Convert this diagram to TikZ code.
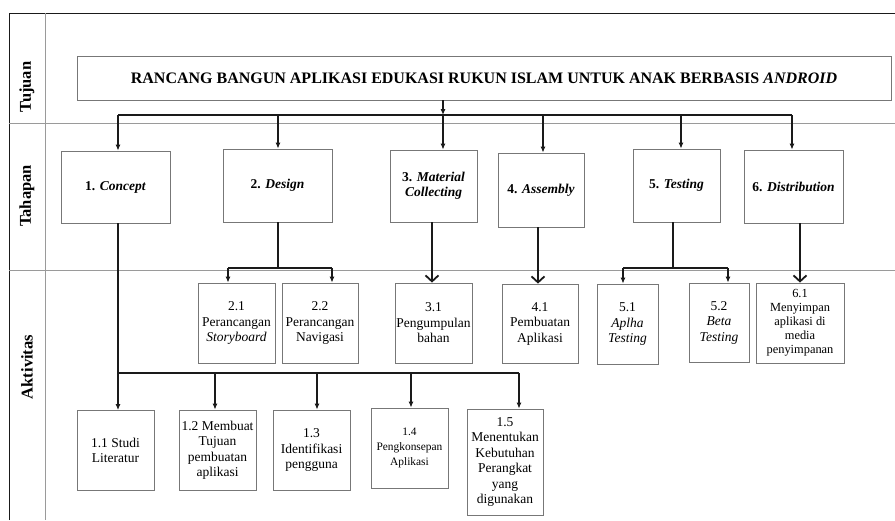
\documentclass[tikz,border=0pt]{standalone}
\usepackage{fontspec}
\setmainfont{Liberation Serif}
\usetikzlibrary{arrows.meta}
\definecolor{vdark}{HTML}{1a1a1a}
\definecolor{vgrid}{HTML}{9a9a9a}
\definecolor{vframe}{HTML}{777777}

\begin{document}
\begin{tikzpicture}[x=1pt, y=-1pt,
		grid/.style={color=vgrid, line width=0.9pt},
		frame/.style={color=vdark, line width=0.9pt},
		stage/.style={draw=vframe, line width=0.8pt, inner sep=1pt, align=center, font=\fontsize{13.5}{15}\selectfont\bfseries},
		act/.style={draw=vframe, line width=0.8pt, inner sep=1pt, align=center, minimum width=77pt, minimum height=80pt, font=\fontsize{13.5}{15.5}\selectfont},
		side/.style={rotate=90, font=\fontsize{16.5}{18}\selectfont\bfseries},
		bus/.style={color=vdark, line width=1.8pt},
		drop/.style={color=vdark, line width=1.1pt, -{Latex[length=6pt, width=5pt]}},
		bigdrop/.style={color=vdark, line width=1.8pt, -{Straight Barb[length=6pt, width=13pt]}}]
		\useasboundingbox (0,0) rectangle (895,520);
		% table lines
		\draw[frame] (9,520) -- (9,13) -- (895,13);
		\draw[grid] (45,13) -- (45,520);
		\draw[grid] (9,123) -- (895,123);
		\draw[grid] (9,270) -- (895,270);
		\node[side] (tujuan) at (27,87) {Tujuan};
		\node[side] (tahapan) at (27,196) {Tahapan};
		\node[side] (aktivitas) at (27,367) {Aktivitas};
		% goal
		\node[draw=vframe, line width=0.8pt, minimum width=814pt, minimum height=44pt, inner sep=0pt, font=\fontsize{16}{18}\selectfont\bfseries] (title) at (484,78) {RANCANG BANGUN APLIKASI EDUKASI RUKUN ISLAM UNTUK ANAK BERBASIS \textit{ANDROID}};
		% stages
		\node[stage, minimum width=109pt, minimum height=72pt] (concept) at (115.5,187) {1. \textit{Concept}};
		\node[stage, minimum width=109pt, minimum height=73pt] (design) at (277.5,185.5) {2. \textit{Design}};
		\node[stage, minimum width=87pt, minimum height=72pt] (material) at (433.5,186) {3. \textit{Material}\\\textit{Collecting}};
		\node[stage, minimum width=86pt, minimum height=74pt] (assembly) at (541,190) {4. \textit{Assembly}};
		\node[stage, minimum width=87pt, minimum height=73pt] (testing) at (676.5,185.5) {5. \textit{Testing}};
		\node[stage, minimum width=99pt, minimum height=73pt] (distribution) at (793.5,186.5) {6. \textit{Distribution}};
		% activities
		\node[act] (a21) at (236.5,323) {2.1\\Perancangan\\\textit{Storyboard}};
		\node[act, minimum width=76pt] (a22) at (320,323) {2.2\\Perancangan\\Navigasi};
		\node[act] (a31) at (433.5,323) {3.1\\Pengumpulan\\bahan};
		\node[act, minimum width=76pt, minimum height=79pt] (a41) at (540,323.5) {4.1\\Pembuatan\\Aplikasi};
		\node[act, minimum width=61pt] (a51) at (627.5,324) {5.1\\\textit{Aplha}\\\textit{Testing}};
		\node[act, minimum width=60pt, minimum height=79pt] (a52) at (719,322.5) {5.2\\\textit{Beta}\\\textit{Testing}};
		\node[act, minimum width=88pt, font=\fontsize{12.4}{14}\selectfont] (a61) at (800,323) {6.1\\Menyimpan\\aplikasi di\\media\\penyimpanan};
		\node[act] (a11) at (115.5,450.5) {1.1 Studi\\Literatur};
		\node[act] (a12) at (217.5,450) {1.2 Membuat\\Tujuan\\pembuatan\\aplikasi};
		\node[act] (a13) at (311.5,450) {1.3\\Identifikasi\\pengguna};
		\node[act, font=\fontsize{11.4}{15}\selectfont] (a14) at (409.5,448) {1.4\\Pengkonsepan\\Aplikasi};
		\node[act, minimum width=76pt, minimum height=106pt] (a15) at (505,462) {1.5\\Menentukan\\Kebutuhan\\Perangkat\\yang\\digunakan};
		% goal to stages
		\coordinate (t0) at (443,115);
		\coordinate (b1) at (118,115);
		\coordinate (b2) at (278,115);
		\coordinate (b4) at (543,115);
		\coordinate (b5) at (681,115);
		\coordinate (b6) at (792,115);
		\draw[drop] (title.south -| t0) -- (t0);
		\draw[bus] (b1) -- (b6);
		\draw[drop] (b1) -- (b1 |- concept.north);
		\draw[drop] (b2) -- (b2 |- design.north);
		\draw[drop] (t0) -- (t0 |- material.north);
		\draw[drop] (b4) -- (b4 |- assembly.north);
		\draw[drop] (b5) -- (b5 |- testing.north);
		\draw[drop] (b6) -- (b6 |- distribution.north);
		% stages to activities
		\coordinate (k1) at (118,373);
		\coordinate (k2) at (215,373);
		\coordinate (k3) at (317,373);
		\coordinate (k4) at (411,373);
		\coordinate (k5) at (519,373);
		\draw[bus] (concept.south -| k1) -- (k1) -- (k5);
		\draw[drop] (k1) -- (k1 |- a11.north);
		\draw[drop] (k2) -- (k2 |- a12.north);
		\draw[drop] (k3) -- (k3 |- a13.north);
		\draw[drop] (k4) -- (k4 |- a14.north);
		\draw[drop] (k5) -- (k5 |- a15.north);
		\coordinate (d0) at (278,268);
		\coordinate (d1) at (228,268);
		\coordinate (d2) at (332,268);
		\draw[bus] (design.south -| d0) -- (d0);
		\draw[bus] (d1) -- (d2);
		\draw[drop] (d1) -- (d1 |- a21.north);
		\draw[drop] (d2) -- (d2 |- a22.north);
		\coordinate (m0) at (432,250);
		\draw[bigdrop] (material.south -| m0) -- (a31.north -| m0);
		\coordinate (s0) at (538,250);
		\draw[bigdrop] (assembly.south -| s0) -- (a41.north -| s0);
		\coordinate (e0) at (673,268);
		\coordinate (e1) at (623,268);
		\coordinate (e2) at (728,268);
		\draw[bus] (testing.south -| e0) -- (e0);
		\draw[bus] (e1) -- (e2);
		\draw[drop] (e1) -- (e1 |- a51.north);
		\draw[drop] (e2) -- (e2 |- a52.north);
		\coordinate (g0) at (800,250);
		\draw[bigdrop] (distribution.south -| g0) -- (a61.north -| g0);
	\end{tikzpicture}
\end{document}
